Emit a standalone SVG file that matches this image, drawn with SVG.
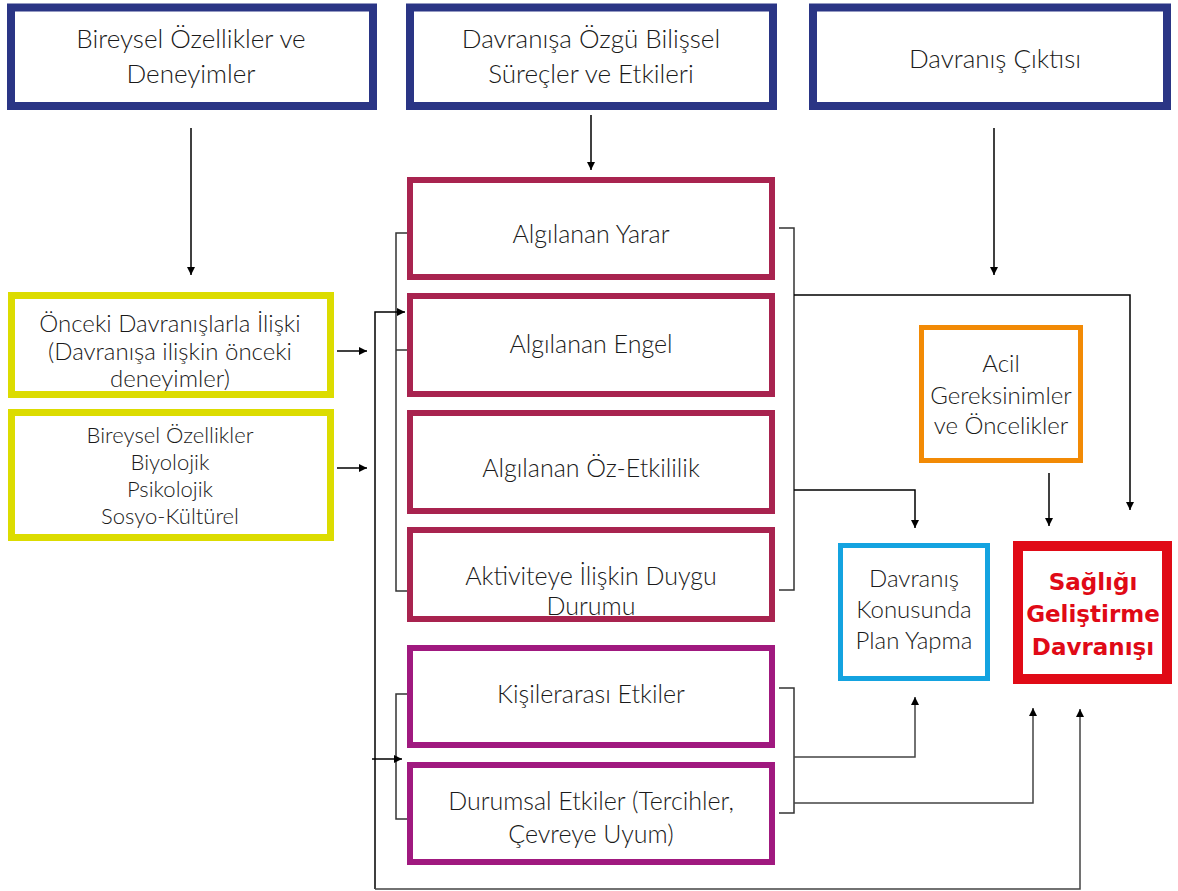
<svg xmlns="http://www.w3.org/2000/svg" width="1178" height="891" viewBox="0 0 1178 891">
<style>
text{font-family:Lato,"Liberation Sans",sans-serif;font-weight:300;font-size:25px;fill:#1a1a1a;text-anchor:middle}
.t26{font-size:26px}
.t24{font-size:24px}
.t22{font-size:22px}
.box{fill:#fff}
.navy{stroke:#2a3585;stroke-width:8}
.yel{stroke:#dcdc00;stroke-width:7}
.cri{stroke:#a8234f;stroke-width:6}
.pur{stroke:#a0197f;stroke-width:6}
.ora{stroke:#f28a05;stroke-width:5}
.blu{stroke:#14a3e0;stroke-width:5}
.red{stroke:#e00a16;stroke-width:10}
.c{fill:none;stroke:#333;stroke-width:1.5}
.a{fill:none;stroke:#000;stroke-width:1.5;marker-end:url(#ah)}
.ag{fill:none;stroke:#444;stroke-width:1.5;marker-end:url(#ah)}
.bold{font-family:"DejaVu Sans",sans-serif;font-weight:700;fill:#e00a16;font-size:23px}
</style>
<defs>
<marker id="ah" viewBox="0 0 10 10" refX="10" refY="5" markerWidth="8" markerHeight="8" markerUnits="userSpaceOnUse" orient="auto">
<path d="M0,0 L10,5 L0,10 Z" fill="#000"/>
</marker>
</defs>

<g id="connectors">
<path class="a" d="M191,128 V275"/>
<path class="a" d="M591,115 V170"/>
<path class="a" d="M994,128 V275"/>
<path class="a" d="M337,351 H367"/>
<path class="a" d="M337,468 H367"/>
<path class="c" d="M410,233 H396 V591 H410 M396,350 H410"/>
<path class="a" d="M375,889 V312 H405"/>
<path class="ag" d="M375,889 H1080 V709"/>
<path class="c" d="M410,694 H396 V819 H410"/>
<path class="a" d="M372,759 H402"/>
<path class="c" d="M779,228 H794 V590 H779"/>
<path class="a" d="M794,295 H1130 V510"/>
<path class="a" d="M794,490 H915 V528"/>
<path class="c" d="M779,688 H794 V813 H779"/>
<path class="ag" d="M794,757 H915 V697"/>
<path class="ag" d="M794,803 H1033 V708"/>
<path class="a" d="M1049,473 V526"/>
<path class="a" d="M597,447 V422"/>
<path class="a" d="M597,560 V536"/>
</g>

<g id="n1"><rect class="box navy" x="11" y="7.5" width="362" height="98.5"/>
<text class="t26" x="191" y="48">Bireysel Özellikler ve</text><text class="t26" x="191" y="83">Deneyimler</text></g>
<g id="n2"><rect class="box navy" x="410" y="7.5" width="363" height="98.5"/>
<text class="t26" x="591" y="48">Davranışa Özgü Bilişsel</text><text class="t26" x="591" y="83">Süreçler ve Etkileri</text></g>
<g id="n3"><rect class="box navy" x="813" y="7.5" width="354" height="98.5"/>
<text class="t26" x="995" y="68">Davranış Çıktısı</text></g>

<g id="n4"><rect class="box yel" x="11.5" y="295.5" width="319" height="99"/>
<text class="t24" x="170" y="332">Önceki Davranışlarla İlişki</text><text class="t24" x="170" y="360">(Davranışa ilişkin önceki</text><text class="t24" x="170" y="387">deneyimler)</text></g>
<g id="n5"><rect class="box yel" x="11.5" y="412.5" width="319" height="125"/>
<text class="t22" x="170" y="443">Bireysel Özellikler</text><text class="t22" x="170" y="470">Biyolojik</text><text class="t22" x="170" y="497">Psikolojik</text><text class="t22" x="170" y="524">Sosyo-Kültürel</text></g>

<g id="n6"><rect class="box cri" x="410" y="180" width="362" height="97"/>
<text x="591" y="243">Algılanan Yarar</text></g>
<g id="n7"><rect class="box cri" x="410" y="296" width="362" height="98"/>
<text x="591" y="353">Algılanan Engel</text></g>
<g id="n8"><rect class="box cri" x="410" y="413" width="362" height="98"/>
<text x="591" y="477">Algılanan Öz-Etkililik</text></g>
<g id="n9"><rect class="box cri" x="410" y="530" width="362" height="89"/>
<text x="591" y="585">Aktiviteye İlişkin Duygu</text><text x="591" y="615">Durumu</text></g>

<g id="n10"><rect class="box pur" x="410" y="648" width="362" height="97"/>
<text x="591" y="703">Kişilerarası Etkiler</text></g>
<g id="n11"><rect class="box pur" x="410" y="765" width="362" height="97"/>
<text x="591" y="810">Durumsal Etkiler (Tercihler,</text><text x="591" y="843">Çevreye Uyum)</text></g>

<g id="n12"><rect class="box ora" x="921.5" y="327.5" width="159" height="133"/>
<text class="t24" x="1001" y="372">Acil</text><text class="t24" x="1001" y="404">Gereksinimler</text><text class="t24" x="1001" y="434">ve Öncelikler</text></g>
<g id="n13"><rect class="box blu" x="840.5" y="545.5" width="147" height="133"/>
<text class="t24" x="914" y="587">Davranış</text><text class="t24" x="914" y="618">Konusunda</text><text class="t24" x="914" y="649">Plan Yapma</text></g>
<g id="n14"><rect class="box red" x="1018" y="546" width="149" height="133"/>
<text class="bold" x="1093" y="590">Sağlığı</text><text class="bold" x="1093" y="622">Geliştirme</text><text class="bold" x="1093" y="655">Davranışı</text></g>
</svg>
